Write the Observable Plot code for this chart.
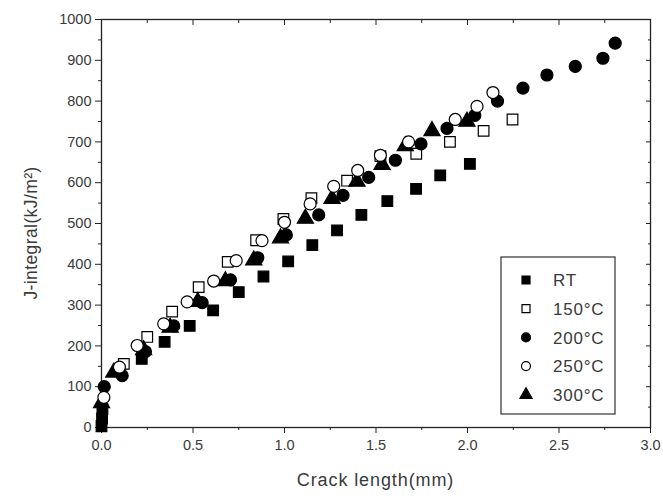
<!DOCTYPE html>
<html><head><meta charset="utf-8">
<script src="https://cdn.jsdelivr.net/npm/d3@7"></script>
<script src="https://cdn.jsdelivr.net/npm/@observablehq/plot@0.6"></script>
<style>body{margin:0;background:#fff}</style>
</head><body><div id="chart"></div>
<script>
// ---- data ----
const seriesNames = ["RT", "150°C", "200°C", "250°C", "300°C"];

const rtX = [0, 0.003, 0.005, 0.22, 0.345, 0.482, 0.61, 0.75, 0.885, 1.02, 1.152, 1.287, 1.42, 1.562, 1.719, 1.851, 2.013];
const rtY = [3, 22, 45, 168, 210, 249, 287, 332, 370, 407, 447, 483, 521, 555, 585, 618, 646];

const t150X = [0.122, 0.25, 0.386, 0.531, 0.69, 0.845, 0.994, 1.147, 1.342, 1.524, 1.72, 1.904, 2.088, 2.246];
const t150Y = [156, 222, 284, 344, 406, 459, 511, 562, 605, 665, 671, 700, 727, 755];

const t200X = [0.015, 0.113, 0.24, 0.395, 0.55, 0.705, 0.854, 1.01, 1.187, 1.32, 1.46, 1.606, 1.746, 1.888, 2.04, 2.164, 2.303, 2.434, 2.589, 2.74, 2.807];
const t200Y = [100, 127, 186, 249, 306, 362, 416, 472, 521, 569, 613, 655, 695, 733, 765, 800, 832, 864, 885, 905, 942];

const t250X = [0.013, 0.098, 0.195, 0.34, 0.468, 0.613, 0.736, 0.877, 1.0, 1.14, 1.269, 1.4, 1.524, 1.678, 1.933, 2.052, 2.139];
const t250Y = [74, 148, 201, 254, 308, 359, 409, 458, 503, 548, 591, 630, 667, 700, 755, 787, 821];

const t300X = [0.0, 0.067, 0.23, 0.375, 0.526, 0.677, 0.832, 0.978, 1.114, 1.26, 1.396, 1.533, 1.66, 1.806, 1.997];
const t300Y = [60, 135, 190, 245, 308, 359, 410, 464, 512, 561, 603, 644, 690, 727, 750];

const xMajor = [0, 0.5, 1.0, 1.5, 2.0, 2.5, 3.0];
const xMinor = [0.25, 0.75, 1.25, 1.75, 2.25, 2.75];
const yMajor = [0, 100, 200, 300, 400, 500, 600, 700, 800, 900, 1000];
const yMinor = [50, 150, 250, 350, 450, 550, 650, 750, 850, 950];

const xTitle = "Crack length(mm)";
const yTitle = "J-integral(kJ/m²)";

// ---- build table ----
const rows = [];
function add(name, xs, ys) { xs.forEach((x, i) => rows.push({series: name, x, y: ys[i]})); }
add("RT", rtX, rtY);
add("150°C", t150X, t150Y);
add("200°C", t200X, t200Y);
add("300°C", t300X, t300Y);
add("250°C", t250X, t250Y);

const styles = {
  "RT":    {symbol: "square",   fill: "#000", stroke: "#000"},
  "150°C": {symbol: "square",   fill: "#fff", stroke: "#000"},
  "200°C": {symbol: "circle",   fill: "#000", stroke: "#000"},
  "250°C": {symbol: "circle",   fill: "#fff", stroke: "#000"},
  "300°C": {symbol: "triangle", fill: "#000", stroke: "#000"}
};

const W = 663, H = 498, mL = 101, mR = 13, mT = 19, mB = 71;
const font = "'Liberation Sans', Arial, sans-serif";
const ink = "#3a3a3a";

const order = ["RT", "150°C", "200°C", "300°C", "250°C"];
const dotMarks = order.map(s => Plot.dot(rows.filter(d => d.series === s), {
  x: "x", y: "y", symbol: () => styles[s].symbol, r: 6,
  fill: styles[s].fill, stroke: styles[s].stroke, strokeWidth: 1.2
}));

const chart = Plot.plot({
  width: W, height: H,
  marginLeft: mL, marginRight: mR, marginTop: mT, marginBottom: mB,
  style: {fontFamily: font, color: ink, background: "#fff"},
  x: {domain: [0, 3]},
  y: {domain: [0, 1000]},
  symbol: {type: "identity"},
  marks: [
    Plot.axisX(xMajor, {anchor: "bottom", tickSize: 6, tickPadding: 6, fontSize: 14.5, stroke: "#222",
      tickFormat: d => d.toFixed(1), label: null}),
    Plot.axisX(xMinor, {anchor: "bottom", tickSize: 3, fill: "none", label: null, stroke: "#222"}),
    Plot.axisX(xMajor, {anchor: "top", tickSize: -5, fill: "none", label: null, stroke: "#222"}),
    Plot.axisX(xMinor, {anchor: "top", tickSize: -3, fill: "none", label: null, stroke: "#222"}),
    Plot.axisY(yMajor, {anchor: "left", tickSize: 6, tickPadding: 4, fontSize: 14.5, stroke: "#222",
      tickFormat: d => String(d), label: null}),
    Plot.axisY(yMinor, {anchor: "left", tickSize: 3, fill: "none", label: null, stroke: "#222"}),
    Plot.axisY(yMajor, {anchor: "right", tickSize: -5, fill: "none", label: null, stroke: "#222"}),
    Plot.axisY(yMinor, {anchor: "right", tickSize: -3, fill: "none", label: null, stroke: "#222"}),
    Plot.frame({stroke: "#222", strokeWidth: 1.3}),
    ...dotMarks
  ]
});

document.getElementById("chart").appendChild(chart);

const svg = d3.select(chart);

// ---- axis titles ----
svg.append("text").attr("x", mL + (W - mL - mR) / 2).attr("y", 486)
  .attr("text-anchor", "middle").attr("font-family", font).attr("font-size", 18)
  .attr("letter-spacing", 0.9).attr("fill", ink).text(xTitle);
svg.append("text").attr("transform", "translate(37,233) rotate(-90)")
  .attr("text-anchor", "middle").attr("font-family", font).attr("font-size", 17.5)
  .attr("letter-spacing", 0.4).attr("fill", ink).text(yTitle);

// ---- legend (inside the plot, lower right) ----
const lg = svg.append("g").attr("font-family", font).attr("fill", ink);
const bx = 501, by = 257, bw = 114, bh = 157;
lg.append("rect").attr("x", bx).attr("y", by).attr("width", bw).attr("height", bh)
  .attr("fill", "#fff").attr("stroke", "#333").attr("stroke-width", 1.2);
const sym = {square: d3.symbolSquare, circle: d3.symbolCircle, triangle: d3.symbolTriangle};
seriesNames.forEach((s, i) => {
  const cy = by + 23 + i * 28.7;
  const st = styles[s];
  lg.append("path").attr("d", d3.symbol(sym[st.symbol], Math.PI * 4.5 * 4.5)())
    .attr("transform", `translate(${bx + 25},${cy})`)
    .attr("fill", st.fill).attr("stroke", st.stroke).attr("stroke-width", 1.2);
  lg.append("text").attr("x", bx + 52).attr("y", cy).attr("dy", "0.36em")
    .attr("text-anchor", "start").attr("font-size", 17).attr("letter-spacing", 0.8)
    .attr("fill", ink).text(s);
});
</script>
</body></html>
